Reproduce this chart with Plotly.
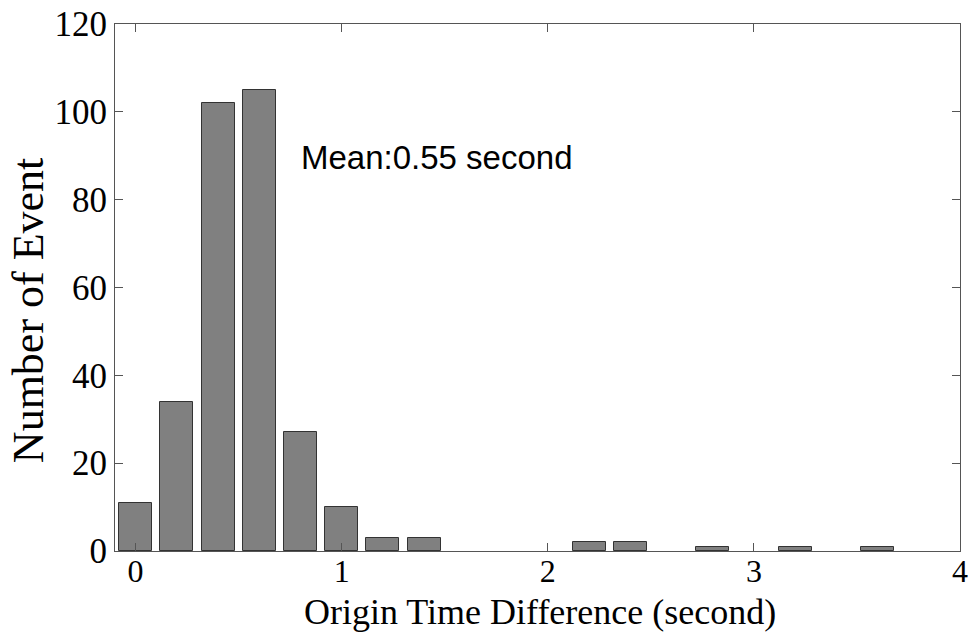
import plotly.graph_objects as go

# Histogram of origin time differences (bin centres, 0.2 s bins)
bin_centers = [0.0, 0.2, 0.4, 0.6, 0.8, 1.0, 1.2, 1.4, 1.6, 1.8, 2.0,
               2.2, 2.4, 2.6, 2.8, 3.0, 3.2, 3.4, 3.6]
event_counts = [11, 34, 102, 105, 27, 10, 3, 3, 0, 0, 0,
                2, 2, 0, 1, 0, 1, 0, 1]
x_ticks = [0, 1, 2, 3, 4]
y_ticks = [0, 20, 40, 60, 80, 100, 120]
x_title = "Origin Time Difference (second)"
y_title = "Number of Event"
mean_label = "Mean:0.55 second"

serif = "Liberation Serif, Times New Roman, serif"

# empty bins get no outline
outline_widths = [1 if c > 0 else 0 for c in event_counts]

fig = go.Figure()
fig.add_trace(go.Bar(
    x=bin_centers,
    y=event_counts,
    width=0.16,
    marker=dict(color="#808080", line=dict(color="#333333", width=outline_widths)),
))

axis_style = dict(
    showline=True, linecolor="#555555", linewidth=1, mirror="ticks",
    ticks="inside", ticklen=8, tickcolor="#555555", tickwidth=1,
    showgrid=False, zeroline=False, automargin=False,
)

fig.update_xaxes(range=[-0.1, 4], tickvals=x_ticks, ticklabelstandoff=-8,
                 tickfont=dict(family=serif, size=32, color="black"), **axis_style)
fig.update_yaxes(range=[0, 120], tickvals=y_ticks,
                 tickfont=dict(family=serif, size=35, color="black"), **axis_style)

# axis titles
fig.add_annotation(
    x=0.503, y=-0.115, xref="paper", yref="paper", text=x_title, showarrow=False,
    xanchor="center", yanchor="middle",
    font=dict(family=serif, size=36, color="black"),
)
fig.add_annotation(
    x=-0.103, y=0.457, xref="paper", yref="paper", text=y_title, showarrow=False,
    xanchor="center", yanchor="middle", textangle=-90,
    font=dict(family=serif, size=44, color="black"),
)

fig.add_annotation(
    x=1.464, y=89.5, xref="x", yref="y", text=mean_label, showarrow=False,
    font=dict(family="Liberation Sans, Arial, sans-serif", size=33, color="black"),
)

fig.update_layout(
    width=978, height=633,
    margin=dict(l=115, r=18, t=24, b=82),
    paper_bgcolor="white", plot_bgcolor="white",
    showlegend=False, bargap=0,
)

fig.write_html("out.html")
